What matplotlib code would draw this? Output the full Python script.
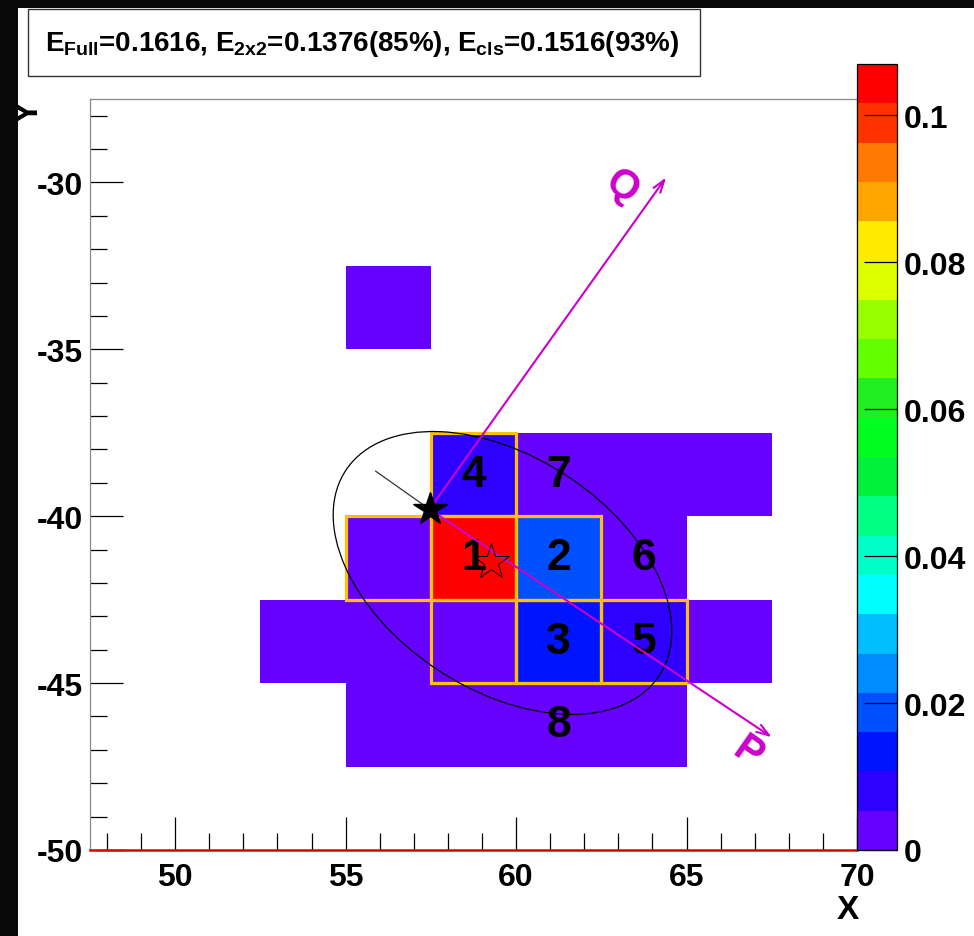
import numpy as np
import matplotlib
matplotlib.use("Agg")
import matplotlib.pyplot as plt
from matplotlib.colors import ListedColormap, BoundaryNorm
from matplotlib.patches import Ellipse, Rectangle
import matplotlib.ticker as mticker

plt.rcParams['font.family'] = ['Liberation Sans', 'DejaVu Sans']
plt.rcParams['font.weight'] = 'bold'
plt.rcParams['mathtext.fontset'] = 'custom'
plt.rcParams['mathtext.rm'] = 'Liberation Sans:bold'
plt.rcParams['mathtext.it'] = 'Liberation Sans:bold'
plt.rcParams['mathtext.bf'] = 'Liberation Sans:bold'

# ---------------- data ----------------
x_edges = [47.5, 50.0, 52.5, 55.0, 57.5, 60.0, 62.5, 65.0, 67.5, 70.0]
y_edges = [-50.0, -47.5, -45.0, -42.5, -40.0, -37.5, -35.0, -32.5, -30.0, -27.5]

# lower-left corner of every fired cell and its energy
cell_x = [55.0, 57.5, 60.0, 62.5, 65.0, 55.0, 57.5, 60.0, 62.5,
          52.5, 55.0, 57.5, 60.0, 62.5, 65.0, 55.0, 57.5, 60.0, 62.5]
cell_y = [-35.0, -40.0, -40.0, -40.0, -40.0, -42.5, -42.5, -42.5, -42.5,
          -45.0, -45.0, -45.0, -45.0, -45.0, -45.0, -47.5, -47.5, -47.5, -47.5]
cell_e = [0.0006, 0.0080, 0.0012, 0.0007, 0.0004, 0.0010, 0.1062, 0.0185, 0.0015,
          0.0003, 0.0006, 0.0009, 0.0120, 0.0070, 0.0005, 0.0003, 0.0004, 0.0010, 0.0004]
z_max = 0.107
n_levels = 20

# cluster cells outlined in yellow (lower-left corners)
outline_x = [57.5, 55.0, 57.5, 60.0, 57.5, 60.0, 62.5]
outline_y = [-40.0, -42.5, -42.5, -42.5, -45.0, -45.0, -45.0]

# cell numbering (lower-left corners)
num_x = [57.5, 60.0, 60.0, 57.5, 62.5, 62.5, 60.0, 60.0]
num_y = [-42.5, -42.5, -45.0, -40.0, -45.0, -42.5, -40.0, -47.5]
num_lbl = ['1', '2', '3', '4', '5', '6', '7', '8']

# reconstructed / true positions and shower ellipse
reco_pt = (57.46, -39.79)
true_pt = (59.27, -41.38)
line_start = (55.88, -38.65)
ell_center = (59.6, -41.7)
ell_width = 11.06
ell_height = 6.94
ell_angle = -34.4
q_tip = (64.4, -29.85)
p_tip = (67.5, -46.62)
q_lbl_pos = (63.1, -30.1)
p_lbl_pos = (66.8, -47.05)

x_ticks = [50, 55, 60, 65, 70]
y_ticks = [-30, -35, -40, -45, -50]
z_ticks = [0, 0.02, 0.04, 0.06, 0.08, 0.1]

title = r"$E_{Full}$=0.1616, $E_{2x2}$=0.1376(85%), $E_{cls}$=0.1516(93%)"

palette = ['#6600ff', '#2d00ff', '#0014ff', '#0050ff', '#008cff', '#00beff',
           '#00ffff', '#00ffc8', '#00ff82', '#00f03c', '#00ff1e', '#22ee22',
           '#64ff00', '#96ff00', '#dcff00', '#ffeb00', '#ffa500', '#ff7800',
           '#ff3200', '#ff0000']

# ---------------- figure ----------------
W, H = 974, 937
fig = plt.figure(figsize=(W / 100, H / 100), dpi=100)
fig.patch.set_facecolor('white')

def fx(px):
    return px / W

def fy(py):
    return 1 - py / H

ax = fig.add_axes([fx(90), fy(851), fx(857) - fx(90), fy(100) - fy(851)])
cax = fig.add_axes([fx(857), fy(851), fx(897) - fx(857), fy(65) - fy(851)])

grid = np.zeros((len(y_edges) - 1, len(x_edges) - 1))
for cx, cy, ce in zip(cell_x, cell_y, cell_e):
    i = int(round((cy - y_edges[0]) / 2.5))
    j = int(round((cx - x_edges[0]) / 2.5))
    grid[i, j] = ce
grid = np.ma.masked_where(grid <= 0, grid)

cmap = ListedColormap(palette)
bounds = np.linspace(0, z_max, n_levels + 1)
norm = BoundaryNorm(bounds, cmap.N)
mesh = ax.pcolormesh(x_edges, y_edges, grid, cmap=cmap, norm=norm,
                     edgecolors='none', zorder=1)

for ox, oy in zip(outline_x, outline_y):
    ax.add_patch(Rectangle((ox, oy), 2.5, 2.5, fill=False,
                           edgecolor='#ffc000', lw=2.3, zorder=2))

for nx, ny, nl in zip(num_x, num_y, num_lbl):
    ax.text(nx + 1.25, ny + 1.25, nl, fontsize=32, fontweight='bold',
            ha='center', va='center', color='black', zorder=3)

ax.add_patch(Ellipse(ell_center, ell_width, ell_height, angle=ell_angle,
                     fill=False, edgecolor='black', lw=0.9, zorder=4))
ax.plot([line_start[0], reco_pt[0]], [line_start[1], reco_pt[1]],
        color='#333333', lw=0.9, zorder=4)

mag = '#cc00cc'
for tip in (q_tip, p_tip):
    ax.annotate('', xy=tip, xytext=reco_pt,
                arrowprops=dict(arrowstyle='->,head_length=0.9,head_width=0.3',
                                color=mag, lw=1.5, shrinkA=0, shrinkB=0),
                zorder=5)
ax.text(*q_lbl_pos, 'Q', color=mag, fontsize=29, fontweight='bold',
        rotation=-35, ha='center', va='center', zorder=5)
ax.text(*p_lbl_pos, 'P', color=mag, fontsize=29, fontweight='bold',
        rotation=-35, ha='center', va='center', zorder=5)

ax.plot([reco_pt[0]], [reco_pt[1]], marker='*', ms=25, color='black',
        zorder=6)
ax.plot([true_pt[0]], [true_pt[1]], marker='*', ms=27, mfc='none',
        mec='black', mew=0.7, zorder=6)

ax.set_xlim(x_edges[0], x_edges[-1])
ax.set_ylim(y_edges[0], y_edges[-1])
ax.set_xticks(x_ticks)
ax.set_yticks(y_ticks)
ax.xaxis.set_minor_locator(mticker.MultipleLocator(1))
ax.yaxis.set_minor_locator(mticker.MultipleLocator(1))
ax.tick_params(which='major', direction='in', length=24, width=0.9,
               labelsize=23, pad=5, top=False, right=False)
ax.tick_params(which='minor', direction='in', length=12, width=0.9,
               top=False, right=False)
ax.tick_params(axis='x', pad=9)
for lab in ax.get_xticklabels() + ax.get_yticklabels():
    lab.set_fontweight('bold')
ax.xaxis.set_major_formatter(mticker.FuncFormatter(lambda v, p: f"{v:g}"))
ax.yaxis.set_major_formatter(mticker.FuncFormatter(lambda v, p: f"{v:g}"))
for s in ('left', 'top', 'right'):
    ax.spines[s].set_color('#888888')
    ax.spines[s].set_linewidth(0.9)
ax.spines['bottom'].set_color('#dd0000')
ax.spines['bottom'].set_linewidth(1.8)

cb = fig.colorbar(mesh, cax=cax, ticks=z_ticks)
cb.outline.set_edgecolor('black')
cb.outline.set_linewidth(0.9)
cax.tick_params(direction='in', length=24, width=0.9, labelsize=23, pad=5,
                color='black')
cax.yaxis.set_major_formatter(mticker.FuncFormatter(lambda v, p: f"{v:g}"))
cax.minorticks_off()
for lab in cax.get_yticklabels():
    lab.set_fontweight('bold')

fig.text(fx(848), fy(911), 'X', fontsize=24, fontweight='bold',
         ha='center', va='center')
fig.text(fx(29), fy(112), 'Y', fontsize=24, fontweight='bold',
         ha='center', va='center', rotation=90)

# title box
fig.add_artist(Rectangle((fx(28), fy(77)), fx(700) - fx(28), fy(10) - fy(77),
                         transform=fig.transFigure, facecolor='white',
                         edgecolor='#333333', lw=1.0, zorder=8))
fig.text(fx(362), fy(44), title, fontsize=20, ha='center', va='center',
         zorder=9)

# black canvas border
fig.add_artist(Rectangle((0, 0), fx(18), 1, transform=fig.transFigure,
                         facecolor='#0a0a0a', edgecolor='none', zorder=20))
fig.add_artist(Rectangle((0, fy(9)), 1, 1 - fy(9), transform=fig.transFigure,
                         facecolor='#0a0a0a', edgecolor='none', zorder=20))

fig.savefig('out.png', dpi=100, facecolor=fig.get_facecolor())
